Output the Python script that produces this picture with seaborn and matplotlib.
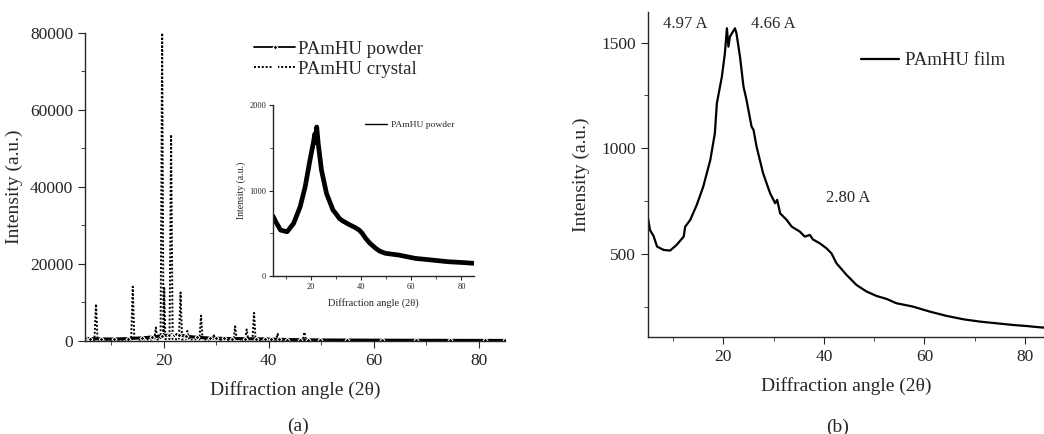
import numpy as np
import pandas as pd
import matplotlib
matplotlib.use("Agg")
import matplotlib.pyplot as plt
import seaborn as sns
from matplotlib.ticker import MultipleLocator

# Reading values off the picture
# (a) powder sample, broad amorphous halo
powder_angle = [5.0, 6.0, 8.0, 10.6, 13.2, 15.8, 17.8, 19.7, 21.0, 21.7, 22.0, 22.4, 23.0,
                24.3, 26.3, 28.9, 30.0, 31.5, 33.0, 35.4, 37.5, 39.3, 40.5, 41.9, 43.5,
                45.9, 47.5, 49.8, 55.0, 61.6, 68.1, 74.6, 81.2, 85.0]
powder_int = [700, 640, 537, 517, 615, 809, 1043, 1354, 1549, 1665, 1560, 1743, 1549,
              1237, 965, 770, 731, 670, 640, 600, 570, 537, 500, 440, 385,
              323, 290, 265, 245, 206, 187, 167, 156, 148]

# (a) crystal sample, sharp reflections
crystal_angle = [5.0, 6.8, 7.1, 7.4, 10.0, 13.8, 14.1, 14.4, 17.0, 18.2, 18.5, 18.8, 19.4,
                 19.7, 19.95, 20.1, 20.3, 21.1, 21.4, 21.7, 22.9, 23.2, 23.5, 24.2, 24.5,
                 24.8, 26.8, 27.1, 27.4, 29.3, 29.6, 29.9, 31.5, 33.3, 33.6, 33.9, 35.5,
                 35.8, 36.1, 36.9, 37.2, 37.5, 39.5, 41.4, 41.7, 42.0, 44.0, 46.5, 46.8,
                 47.1, 50.0, 52.5, 55.5, 58.5, 61.5, 64.5, 67.5, 70.5, 73.5, 76.5, 79.5,
                 82.5, 85.0]
crystal_int = [300, 300, 9600, 300, 300, 300, 14100, 300, 400, 400, 3500, 400, 500,
               80000, 1200, 13700, 500, 500, 53600, 500, 400, 12600, 400, 400, 2600,
               400, 400, 6600, 400, 300, 1700, 300, 300, 300, 3800, 300, 300,
               3000, 300, 300, 7300, 300, 300, 300, 1900, 300, 300, 300, 2300,
               300, 250, 250, 250, 250, 250, 250, 250, 250, 250, 250, 250,
               250, 250]

# (b) film sample
film_angle = [5.0, 5.4, 6.1, 6.8, 8.1, 9.4, 10.7, 12.1, 12.4, 13.4, 14.7, 16.0, 17.4,
              18.3, 18.7, 19.7, 20.3, 20.7, 21.0, 21.3, 21.9, 22.3, 22.6, 23.3, 24.0,
              24.6, 25.6, 26.0, 26.6, 27.9, 29.3, 30.3, 30.7, 31.3, 32.6, 33.6, 35.2,
              36.2, 37.2, 37.8, 39.2, 40.5, 41.5, 42.5, 44.5, 46.5, 48.5, 50.5, 52.5,
              54.4, 57.7, 61.1, 64.4, 67.7, 71.0, 74.3, 77.6, 80.3, 82.9, 84.0]
film_int = [669, 613, 585, 535, 519, 516, 543, 582, 629, 661, 732, 819, 945,
            1071, 1213, 1339, 1450, 1568, 1481, 1528, 1552, 1568, 1544, 1434, 1292,
            1229, 1103, 1087, 1008, 882, 787, 740, 756, 692, 661, 629, 606,
            582, 590, 569, 550, 527, 503, 456, 401, 353, 322, 301, 287,
            267, 251, 227, 207, 191, 180, 172, 164, 159, 153, 151]

film_peaks = ["4.97 A", "4.66 A", "2.80 A"]

powder = pd.DataFrame({"angle": powder_angle, "intensity": powder_int})
crystal = pd.DataFrame({"angle": crystal_angle, "intensity": crystal_int})
film = pd.DataFrame({"angle": film_angle, "intensity": film_int})

sns.set_style("ticks")
plt.rcParams["font.family"] = ["Liberation Serif", "DejaVu Serif"]
plt.rcParams["axes.linewidth"] = 1.0

fig = plt.figure(figsize=(10.44, 4.34), dpi=100)

# Panel (a)
ax_a = fig.add_axes([0.0814, 0.2143, 0.4023, 0.7097])
sns.lineplot(data=crystal, x="angle", y="intensity", ax=ax_a, sort=False,
             estimator=None, color="black", linestyle=(0, (1, 1)), linewidth=1.4,
             label="PAmHU crystal")
ax_a.lines[-1].set_marker("s")
ax_a.lines[-1].set_markersize(3.5)
ax_a.lines[-1].set_markerfacecolor("white")
ax_a.lines[-1].set_markevery([i for i, v in enumerate(crystal_int) if v < 350][5:])
sns.lineplot(data=powder, x="angle", y="intensity", ax=ax_a, sort=False,
             estimator=None, color="black", linewidth=2.2,
             label="PAmHU powder")
ax_a.lines[-1].set_marker("D")
ax_a.lines[-1].set_markersize(2.5)

ax_a.set_xlim(5, 85)
ax_a.set_ylim(0, 80000)
ax_a.xaxis.set_major_locator(MultipleLocator(20))
ax_a.xaxis.set_minor_locator(MultipleLocator(10))
ax_a.yaxis.set_major_locator(MultipleLocator(20000))
ax_a.yaxis.set_minor_locator(MultipleLocator(10000))
ax_a.tick_params(which="major", length=5, labelsize=12.5, direction="out")
ax_a.tick_params(which="minor", length=3, direction="out")
ax_a.set_xlabel("Diffraction angle (2θ)", fontsize=14, labelpad=9)
ax_a.set_ylabel("Intensity (a.u.)", fontsize=14, labelpad=5)
sns.despine(ax=ax_a)

handles, labels = ax_a.get_legend_handles_labels()
order = [labels.index("PAmHU powder"), labels.index("PAmHU crystal")]
leg_a = ax_a.legend([handles[i] for i in order], [labels[i] for i in order],
                    loc="upper left", bbox_to_anchor=(0.385, 1.0), frameon=False,
                    fontsize=13.5, handlelength=2.2, handletextpad=0.15,
                    labelspacing=0.15, borderaxespad=0)
leg_a.get_lines()[0].set_linewidth(1.3)
for line in leg_a.get_lines():
    line.set_markevery([1])

# Inset with the powder halo
ax_in = fig.add_axes([0.2615, 0.3641, 0.1925, 0.3939])
sns.lineplot(data=powder, x="angle", y="intensity", ax=ax_in, sort=False,
             estimator=None, color="black", linewidth=3.4, label="PAmHU powder")
ax_in.set_xlim(5, 85)
ax_in.set_ylim(0, 2000)
ax_in.xaxis.set_major_locator(MultipleLocator(20))
ax_in.xaxis.set_minor_locator(MultipleLocator(10))
ax_in.yaxis.set_major_locator(MultipleLocator(1000))
ax_in.yaxis.set_minor_locator(MultipleLocator(500))
ax_in.tick_params(which="major", length=3, labelsize=6, direction="out", pad=2)
ax_in.tick_params(which="minor", length=2, direction="out")
ax_in.set_xlabel("Diffraction angle (2θ)", fontsize=7.5, labelpad=5)
ax_in.set_ylabel("Intensity (a.u.)", fontsize=7, labelpad=2)
sns.despine(ax=ax_in)
leg = ax_in.legend(loc="upper left", bbox_to_anchor=(0.44, 0.93), frameon=False,
                   fontsize=6.8, handlelength=2.3, handletextpad=0.4, borderaxespad=0)
leg.get_lines()[0].set_linewidth(1.0)

# Panel (b)
ax_b = fig.add_axes([0.6207, 0.2235, 0.3793, 0.7489])
sns.lineplot(data=film, x="angle", y="intensity", ax=ax_b, sort=False,
             estimator=None, color="black", linewidth=1.6, label="PAmHU film")
ax_b.set_xlim(5, 83.8)
ax_b.set_ylim(107, 1645)
ax_b.xaxis.set_major_locator(MultipleLocator(20))
ax_b.xaxis.set_minor_locator(MultipleLocator(10))
ax_b.yaxis.set_major_locator(MultipleLocator(500))
ax_b.yaxis.set_minor_locator(MultipleLocator(250))
ax_b.tick_params(which="major", length=5, labelsize=12.5, direction="out")
ax_b.tick_params(which="minor", length=3, direction="out")
ax_b.set_xlabel("Diffraction angle (2θ)", fontsize=14, labelpad=9)
ax_b.set_ylabel("Intensity (a.u.)", fontsize=14, labelpad=8)
sns.despine(ax=ax_b)
ax_b.legend(loc="upper left", bbox_to_anchor=(0.52, 0.90), frameon=False,
            fontsize=13.5, handlelength=2.0, handletextpad=0.3, borderaxespad=0)

for label, (px, py) in zip(film_peaks, [(8.0, 1587), (25.5, 1587), (40.5, 765)]):
    ax_b.text(px, py, label, fontsize=12, va="center", ha="left")

fig.text(0.2854, 0.018, "(a)", fontsize=14, ha="center", va="center")
fig.text(0.8027, 0.016, "(b)", fontsize=14, ha="center", va="center")

fig.savefig("out.png", dpi=100)
